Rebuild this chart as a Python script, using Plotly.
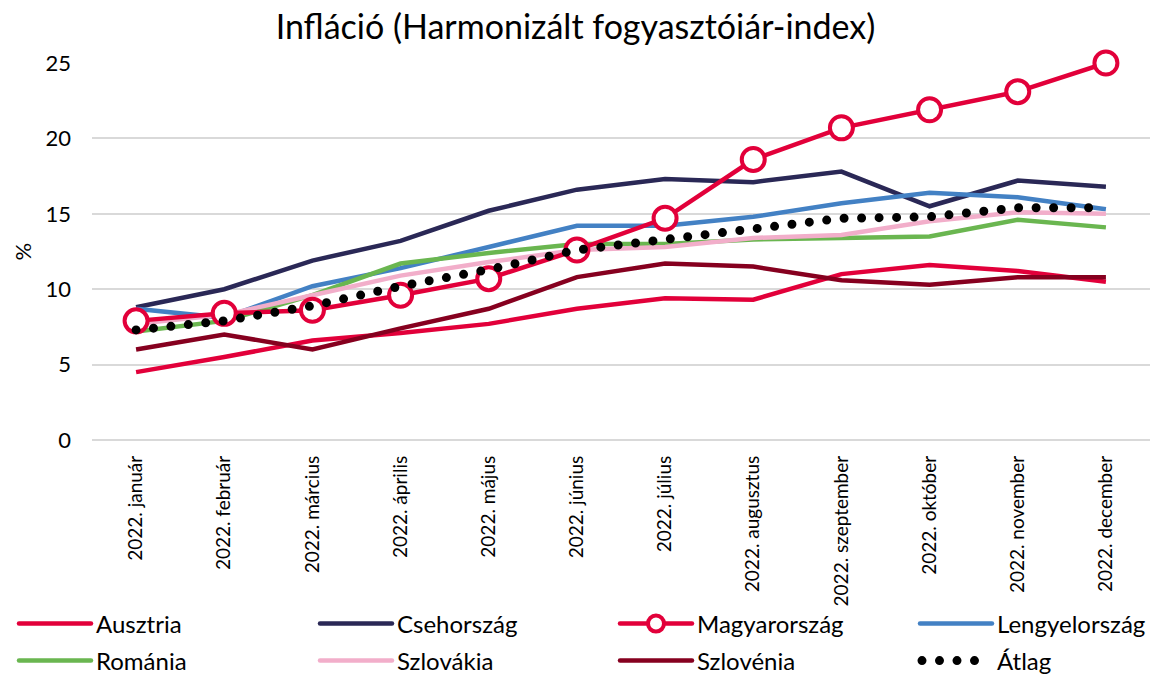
import plotly.graph_objects as go

months = ["2022. január", "2022. február", "2022. március", "2022. április", "2022. május",
          "2022. június", "2022. július", "2022. augusztus", "2022. szeptember",
          "2022. október", "2022. november", "2022. december"]

ausztria = [4.5, 5.5, 6.6, 7.1, 7.7, 8.7, 9.4, 9.3, 11.0, 11.6, 11.2, 10.5]
csehorszag = [8.8, 10.0, 11.9, 13.2, 15.2, 16.6, 17.3, 17.1, 17.8, 15.5, 17.2, 16.8]
magyarorszag = [7.9, 8.4, 8.6, 9.6, 10.7, 12.6, 14.7, 18.6, 20.7, 21.9, 23.1, 25.0]
lengyelorszag = [8.7, 8.1, 10.2, 11.4, 12.8, 14.2, 14.2, 14.8, 15.7, 16.4, 16.1, 15.3]
romania = [7.2, 7.9, 9.6, 11.7, 12.4, 13.0, 13.0, 13.3, 13.4, 13.5, 14.6, 14.1]
szlovakia = [7.7, 8.3, 9.6, 10.9, 11.8, 12.6, 12.8, 13.4, 13.6, 14.5, 15.1, 15.0]
szlovenia = [6.0, 7.0, 6.0, 7.4, 8.7, 10.8, 11.7, 11.5, 10.6, 10.3, 10.8, 10.8]
atlag = [7.3, 7.9, 8.9, 10.2, 11.3, 12.6, 13.3, 14.0, 14.7, 14.8, 15.4, 15.4]

y_ticks = [0, 5, 10, 15, 20, 25]

FONT = "Lato"
RED = "#E2003A"

# legend slot for each series: (legend id, column, row)
legend_slots = {
    "Ausztria": ("legend", 0, 0),
    "Csehország": ("legend2", 1, 0),
    "Magyarország": ("legend3", 2, 0),
    "Lengyelország": ("legend4", 3, 0),
    "Románia": ("legend5", 0, 1),
    "Szlovákia": ("legend6", 1, 1),
    "Szlovénia": ("legend7", 2, 1),
    "Átlag": ("legend8", 3, 1),
}

fig = go.Figure()

def add_line(name, vals, color, width=4.5, dash="solid", mode="lines", marker=None):
    fig.add_trace(go.Scatter(
        x=months, y=vals, name=name, mode=mode,
        line=dict(color=color, width=width, dash=dash),
        marker=marker, cliponaxis=False,
        legend=legend_slots[name][0],
    ))

add_line("Ausztria", ausztria, RED)
add_line("Csehország", csehorszag, "#2A2856")
add_line("Lengyelország", lengyelorszag, "#4381C4")
add_line("Románia", romania, "#6AB650")
add_line("Szlovákia", szlovakia, "#F2AECA")
add_line("Szlovénia", szlovenia, "#86001F")
add_line("Magyarország", magyarorszag, RED, mode="lines+markers",
         marker=dict(symbol="circle", size=23, color="white", line=dict(color=RED, width=4)))
add_line("Átlag", atlag, "black", width=9, dash="0px,17.5px")

W, H = 1151, 677
col_px = [56, 357, 657, 957]
row_px = [624, 661]

legends = {}
for name, (lid, c, r) in legend_slots.items():
    legends[lid] = dict(
        xref="container", yref="container",
        x=col_px[c] / W, xanchor="left",
        y=1 - row_px[r] / H, yanchor="middle",
        orientation="v", itemwidth=30,
        font=dict(size=24, family=FONT, color="black"),
        bgcolor="rgba(0,0,0,0)", borderwidth=0,
    )

fig.update_layout(
    width=W, height=H,
    paper_bgcolor="white", plot_bgcolor="white",
    font=dict(family=FONT, color="black"),
    title=dict(text="Infláció (Harmonizált fogyasztóiár-index)", x=0.5, xanchor="center",
               y=1 - 27 / H, yanchor="middle", font=dict(size=34, family=FONT, color="black")),
    margin=dict(l=92, r=1, t=63, b=237, autoexpand=False),
    showlegend=True,
    annotations=[dict(text="%", xref="paper", yref="paper", x=-70 / 1058, y=0.5,
                      xanchor="center", yanchor="middle", textangle=-90, showarrow=False,
                      font=dict(size=22, family=FONT, color="black"))],
    **legends,
)

fig.update_xaxes(type="category", tickangle=-90, tickfont=dict(size=19, family=FONT),
                 showgrid=False, showline=False, ticks="", range=[-0.5, 11.5],
                 automargin=False, ticklabelstandoff=11)
fig.update_yaxes(range=[0, 25], tickvals=y_ticks, tickfont=dict(size=22, family=FONT),
                 showgrid=True, gridcolor="#D9D9D9", gridwidth=1.5,
                 zeroline=True, zerolinecolor="#D9D9D9", zerolinewidth=1.5,
                 showline=False, ticks="", automargin=False, ticklabelstandoff=20)

post = """
document.body.style.margin = '0';
document.body.style.padding = '0';
var s = document.createElement('style');
s.innerHTML = 'body{margin:0;} .scatterlayer .trace:last-child .js-line { stroke-linecap: round; } .legendlines path { stroke-linecap: round; }';
document.head.appendChild(s);
var gd = document.getElementById('{plot_id}');
function fixLegend() {
  gd.querySelectorAll('g[class^="legend"]').forEach(function(lg) {
    lg.removeAttribute('clip-path');
    lg.querySelectorAll('[clip-path]').forEach(function(e) { e.removeAttribute('clip-path'); });
  });
  gd.querySelectorAll('.legendlines path').forEach(function(p) {
    p.setAttribute('d', 'M-37,0h72');
  });
  gd.querySelectorAll('g.legend8 .legendlines path').forEach(function(p) {
    p.setAttribute('d', 'M-35,0h57');
  });
  gd.querySelectorAll('.legendpoints path.scatterpts').forEach(function(p) {
    p.setAttribute('transform', 'translate(-1,0)');
  });
}
fixLegend();
if (gd && gd.on) { gd.on('plotly_afterplot', fixLegend); }
setTimeout(fixLegend, 50);
setTimeout(fixLegend, 300);
"""

fig.write_html("out.html", post_script=post, config={"displayModeBar": False})
